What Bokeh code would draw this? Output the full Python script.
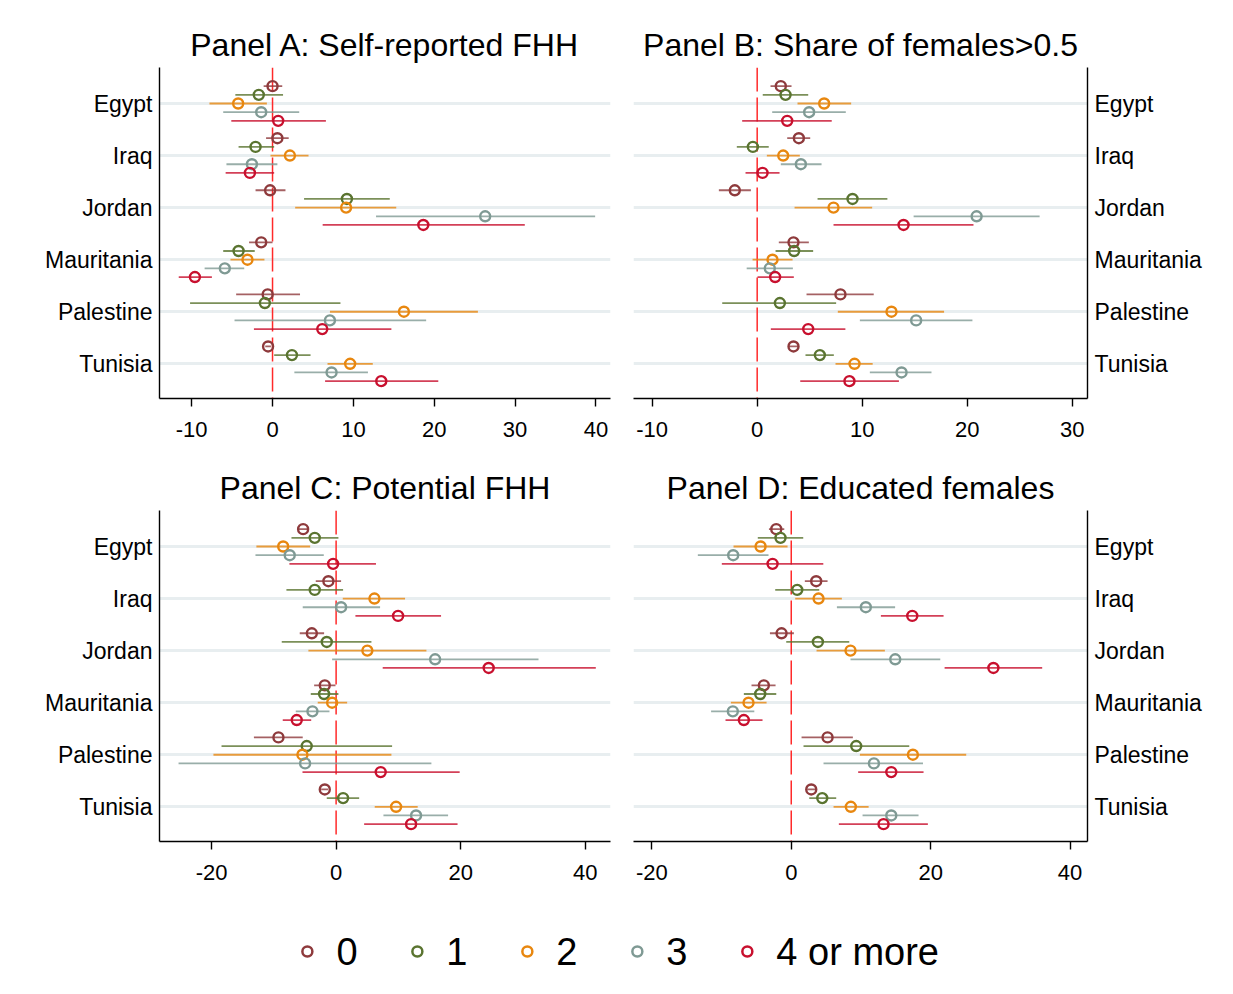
from bokeh.plotting import figure
from bokeh.models import Range1d, FixedTicker, Span, ColumnDataSource
from bokeh.core.properties import value
from bokeh.layouts import column, row
from bokeh.embed import file_html
from bokeh.resources import INLINE

countries = ["Egypt", "Iraq", "Jordan", "Mauritania", "Palestine", "Tunisia"]
series_labels = ["0", "1", "2", "3", "4 or more"]
series_colors = ["#8e3a3c", "#5a7430", "#e8870f", "#7f9a94", "#c8102e"]

# rows = series (0,1,2,3,4+), columns = countries
A_est = [[0.0, 0.6, -0.3, -1.4, -0.6, -0.55],
         [-1.7, -2.1, 9.2, -4.2, -0.95, 2.4],
         [-4.25, 2.15, 9.1, -3.1, 16.25, 9.6],
         [-1.4, -2.55, 26.3, -5.9, 7.1, 7.3],
         [0.7, -2.8, 18.65, -9.6, 6.15, 13.45]]
A_lo = [[-1.1, -0.8, -2.1, -2.9, -4.5, -0.9],
        [-4.6, -4.2, 3.9, -6.1, -10.2, 0.2],
        [-7.8, -0.25, 2.8, -5.2, 7.1, 6.8],
        [-6.1, -5.7, 12.8, -8.4, -4.7, 2.7],
        [-5.1, -5.8, 6.2, -11.6, -2.3, 6.5]]
A_hi = [[1.2, 2.0, 1.6, 0.0, 3.4, -0.2],
        [1.3, 0.2, 14.5, -2.2, 8.4, 4.7],
        [-0.7, 4.45, 15.3, -1.0, 25.4, 12.4],
        [3.3, 0.6, 39.9, -3.5, 19.0, 11.8],
        [6.6, 0.2, 31.2, -7.5, 14.7, 20.5]]

B_est = [[2.25, 3.97, -2.13, 3.46, 7.93, 3.46],
         [2.7, -0.41, 9.08, 3.52, 2.16, 5.97],
         [6.38, 2.48, 7.27, 1.46, 12.79, 9.27],
         [4.95, 4.16, 20.9, 1.2, 15.14, 13.75],
         [2.86, 0.51, 13.94, 1.71, 4.86, 8.79]]
B_lo = [[1.27, 2.86, -3.65, 2.06, 4.7, 3.0],
        [0.53, -1.94, 5.75, 1.75, -3.33, 4.6],
        [3.84, 0.92, 3.56, -0.44, 7.68, 7.46],
        [1.43, 2.25, 14.9, -1.0, 9.78, 10.73],
        [-1.43, -1.11, 7.27, 0.03, 1.3, 4.1]]
B_hi = [[3.27, 5.05, -0.6, 4.92, 11.1, 3.9],
        [4.86, 1.1, 12.4, 5.33, 7.52, 7.3],
        [8.95, 4.06, 10.95, 3.37, 17.8, 11.0],
        [8.44, 6.13, 26.9, 3.4, 20.5, 16.6],
        [7.1, 2.13, 20.6, 3.49, 8.4, 13.5]]

C_est = [[-5.3, -1.24, -3.9, -1.82, -9.26, -1.82],
         [-3.43, -3.43, -1.5, -1.93, -4.72, 1.12],
         [-8.5, 6.15, 5.02, -0.64, -5.41, 9.63],
         [-7.45, 0.8, 15.9, -3.8, -4.98, 12.84],
         [-0.48, 9.95, 24.5, -6.32, 7.16, 12.04]]
C_lo = [[-6.26, -3.27, -5.84, -3.53, -13.2, -2.4],
        [-7.17, -7.98, -8.73, -4.07, -18.4, -1.5],
        [-12.8, 1.07, -4.45, -2.95, -19.7, 6.2],
        [-12.95, -5.36, -0.64, -6.48, -25.3, 7.6],
        [-7.5, 3.1, 7.48, -8.57, -5.4, 4.5]]
C_hi = [[-4.4, 0.8, -1.93, -0.1, -5.36, -1.3],
        [0.37, 1.12, 5.67, 0.37, 8.99, 3.7],
        [-4.17, 11.07, 14.5, 1.77, 8.88, 13.1],
        [-1.98, 7.06, 32.5, -1.07, 15.3, 17.98],
        [6.4, 16.85, 41.7, -4.0, 19.84, 19.5]]

D_est = [[-2.15, 3.58, -1.39, -3.93, 5.21, 2.87],
         [-1.54, 0.86, 3.82, -4.45, 9.32, 4.45],
         [-4.4, 3.92, 8.5, -6.13, 17.45, 8.55],
         [-8.33, 10.7, 14.92, -8.38, 11.86, 14.35],
         [-2.68, 17.36, 29.0, -6.8, 14.35, 13.24]]
D_lo = [[-3.2, 1.95, -3.06, -5.7, 1.48, 2.3],
        [-4.8, -2.3, -0.72, -6.8, 1.76, 2.58],
        [-8.28, 0.57, 3.63, -8.66, 9.85, 6.07],
        [-13.4, 6.55, 8.5, -11.5, 4.63, 10.23],
        [-9.96, 12.86, 22.0, -9.43, 9.6, 6.83]]
D_hi = [[-1.0, 5.21, 0.38, -2.25, 8.84, 3.5],
        [1.72, 4.02, 8.32, -2.15, 16.93, 6.45],
        [-0.53, 7.26, 13.43, -3.54, 25.1, 11.1],
        [-3.26, 14.9, 21.38, -5.3, 18.9, 18.26],
        [4.6, 21.85, 36.0, -4.12, 18.98, 19.6]]

titles = ["Panel A: Self-reported FHH", "Panel B: Share of females>0.5",
          "Panel C: Potential FHH", "Panel D: Educated females"]
ticks_A = [-10, 0, 10, 20, 30, 40]
ticks_B = [-10, 0, 10, 20, 30]
ticks_CD = [-20, 0, 20, 40]

FONT = "Liberation Sans"
GAP = 6  # vertical units between countries


def make_panel(title, est, lo, hi, xr, xticks, side, width, height, borders):
    p = figure(width=width, height=height, x_range=Range1d(*xr),
               y_range=Range1d(34.0, -4.15), output_backend="svg",
               toolbar_location=None, y_axis_location=side, title=title,
               min_border_left=borders[0], min_border_right=borders[1],
               min_border_top=borders[2], min_border_bottom=borders[3])
    p.outline_line_color = None
    p.background_fill_color = "white"
    p.border_fill_color = "white"
    p.title.text_font = FONT
    p.title.text_font_size = "32px"
    p.title.text_font_style = "normal"
    p.title.text_color = "black"
    p.title.align = "center"
    p.title.standoff = 10

    yt = [ci * GAP for ci in range(len(countries))]
    p.yaxis.ticker = FixedTicker(ticks=yt)
    p.yaxis.major_label_overrides = {t: c for t, c in zip(yt, countries)}
    p.yaxis.major_tick_line_color = None
    p.yaxis.major_tick_out = 0
    p.yaxis.minor_tick_line_color = None
    p.yaxis.axis_line_width = 1.4
    p.yaxis.axis_line_color = "black"
    p.yaxis.major_label_text_font = FONT
    p.yaxis.major_label_text_font_size = "23px"
    p.yaxis.major_label_text_color = "black"
    p.yaxis.major_label_standoff = 7

    p.xaxis.ticker = FixedTicker(ticks=xticks)
    p.xaxis.major_label_overrides = {t: str(t) for t in xticks}
    p.xaxis.major_tick_out = 8
    p.xaxis.major_tick_in = 0
    p.xaxis.major_tick_line_width = 1.4
    p.xaxis.major_tick_line_color = "black"
    p.xaxis.minor_tick_line_color = None
    p.xaxis.axis_line_width = 1.4
    p.xaxis.axis_line_color = "black"
    p.xaxis.major_label_text_font = FONT
    p.xaxis.major_label_text_font_size = "22px"
    p.xaxis.major_label_text_color = "black"
    p.xaxis.major_label_standoff = 15

    p.xgrid.visible = False
    p.ygrid.ticker = FixedTicker(ticks=yt)
    p.ygrid.grid_line_color = "#e8eef0"
    p.ygrid.grid_line_width = 3

    p.add_layout(Span(location=0, dimension="height", line_color="#ff2a2a",
                      line_width=1.5, line_dash="24 6", level="underlay"))

    for si in range(len(series_labels)):
        ys = [ci * GAP + (si - 2) for ci in range(len(countries))]
        src = ColumnDataSource(dict(x=est[si], lo=lo[si], hi=hi[si], y=ys))
        p.segment(x0="lo", y0="y", x1="hi", y1="y", source=src,
                  line_color=series_colors[si], line_width=1.8, line_alpha=0.8)
        p.scatter(x="x", y="y", source=src, marker="circle", size=10,
                  fill_color=None, line_color=series_colors[si], line_width=2.4)
    return p


pA = make_panel(titles[0], A_est, A_lo, A_hi, (-13.98, 41.8), ticks_A, "left",
                617, 450, (159, 7, 67, 52))
pB = make_panel(titles[1], B_est, B_lo, B_hi, (-11.78, 31.46), ticks_B, "right",
                616, 450, (16, 146, 67, 52))
pC = make_panel(titles[2], C_est, C_lo, C_hi, (-28.36, 44.06), ticks_CD, "left",
                617, 450, (159, 7, 60, 59))
pD = make_panel(titles[3], D_est, D_lo, D_hi, (-22.63, 42.5), ticks_CD, "right",
                616, 450, (16, 146, 60, 59))

# Legend row: one key per series, evenly spaced
pL = figure(width=1233, height=94, x_range=Range1d(-2.79, 8.42),
            y_range=Range1d(-0.843, 1.0), output_backend="svg",
            toolbar_location=None, x_axis_location=None, y_axis_location=None,
            min_border=0)
pL.outline_line_color = None
pL.grid.visible = False
leg_src = ColumnDataSource(dict(x=list(range(len(series_labels))),
                                y=[0] * len(series_labels),
                                label=series_labels, color=series_colors))
pL.scatter(x="x", y="y", source=leg_src, marker="circle", size=10,
           fill_color=None, line_color="color", line_width=2.5)
pL.text(x="x", y="y", text="label", source=leg_src, x_offset=29,
        text_align="left", text_baseline="middle", text_font=value(FONT),
        text_font_size="38px", text_color="black")

layout = column(row(pA, pB), row(pC, pD), pL)
open("out.html", "w").write(file_html(layout, INLINE))
